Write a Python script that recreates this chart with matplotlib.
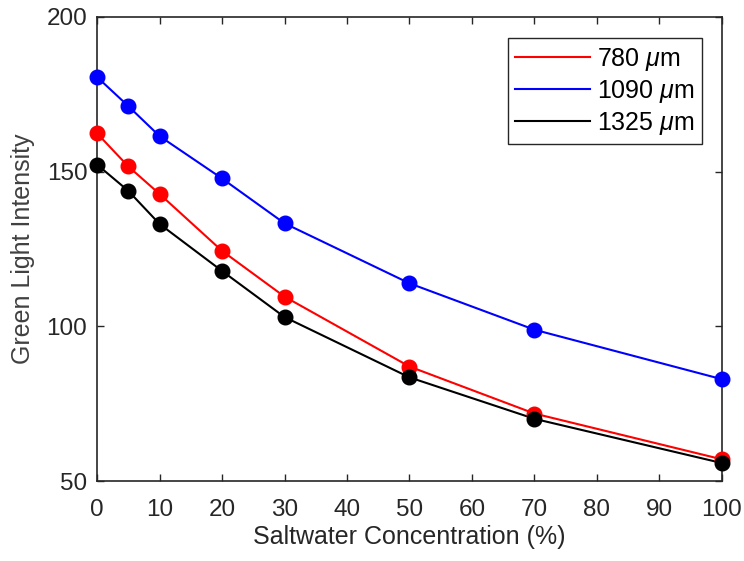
import numpy as np
import matplotlib.pyplot as plt

plt.rcParams['font.family'] = ['Liberation Sans', 'DejaVu Sans']
plt.rcParams['mathtext.fontset'] = 'custom'
plt.rcParams['mathtext.it'] = 'Liberation Sans:italic'
plt.rcParams['mathtext.rm'] = 'Liberation Sans'

## data
conc = [0, 5, 10, 20, 30, 50, 70, 100]
i_780 = [162.4, 151.7, 142.8, 124.4, 109.6, 87.0, 71.8, 57.0]
i_1090 = [180.6, 171.2, 161.5, 147.8, 133.3, 113.9, 98.9, 82.9]
i_1325 = [152.3, 143.8, 133.1, 117.9, 103.0, 83.5, 70.1, 55.8]
labels = [r'780 $\mu$m', r'1090 $\mu$m', r'1325 $\mu$m']

fig = plt.figure(figsize=(7.44, 5.61), dpi=100)
ax = fig.add_axes([0.1304, 0.1426, 0.84, 0.8271])

dark = '#262626'
for y, c, lab in zip([i_780, i_1090, i_1325], ['#ff0000', '#0000ff', '#000000'], labels):
    ax.plot(conc, y, color=c, lw=1.5, label=lab)
    ax.plot(conc, y, 'o', color=c, ms=10.5, clip_on=False, zorder=3)

ax.set_xlim(0, 100)
ax.set_ylim(50, 200)
ax.set_xticks(np.arange(0, 101, 10))
ax.set_yticks([50, 100, 150, 200])
ax.tick_params(direction='in', length=5, width=1, colors=dark, labelsize=17.5,
               top=True, right=True)
ax.tick_params(axis='x', pad=13)
ax.tick_params(axis='y', pad=7)
for s in ax.spines.values():
    s.set_color(dark)
    s.set_linewidth(1.2)

ax.set_xlabel('Saltwater Concentration (%)', fontsize=18, color=dark, labelpad=3)
ax.set_ylabel('Green Light Intensity', fontsize=18, color='#404040', labelpad=8)

leg = ax.legend(loc='upper right', bbox_to_anchor=(0.968, 0.9547), fontsize=18,
                fancybox=False, framealpha=1, edgecolor=dark, handlelength=3.0,
                handletextpad=0.28, labelspacing=0.2, borderpad=0.3,
                borderaxespad=0)
leg.get_frame().set_linewidth(1.0)

fig.savefig('out.png', dpi=100)
